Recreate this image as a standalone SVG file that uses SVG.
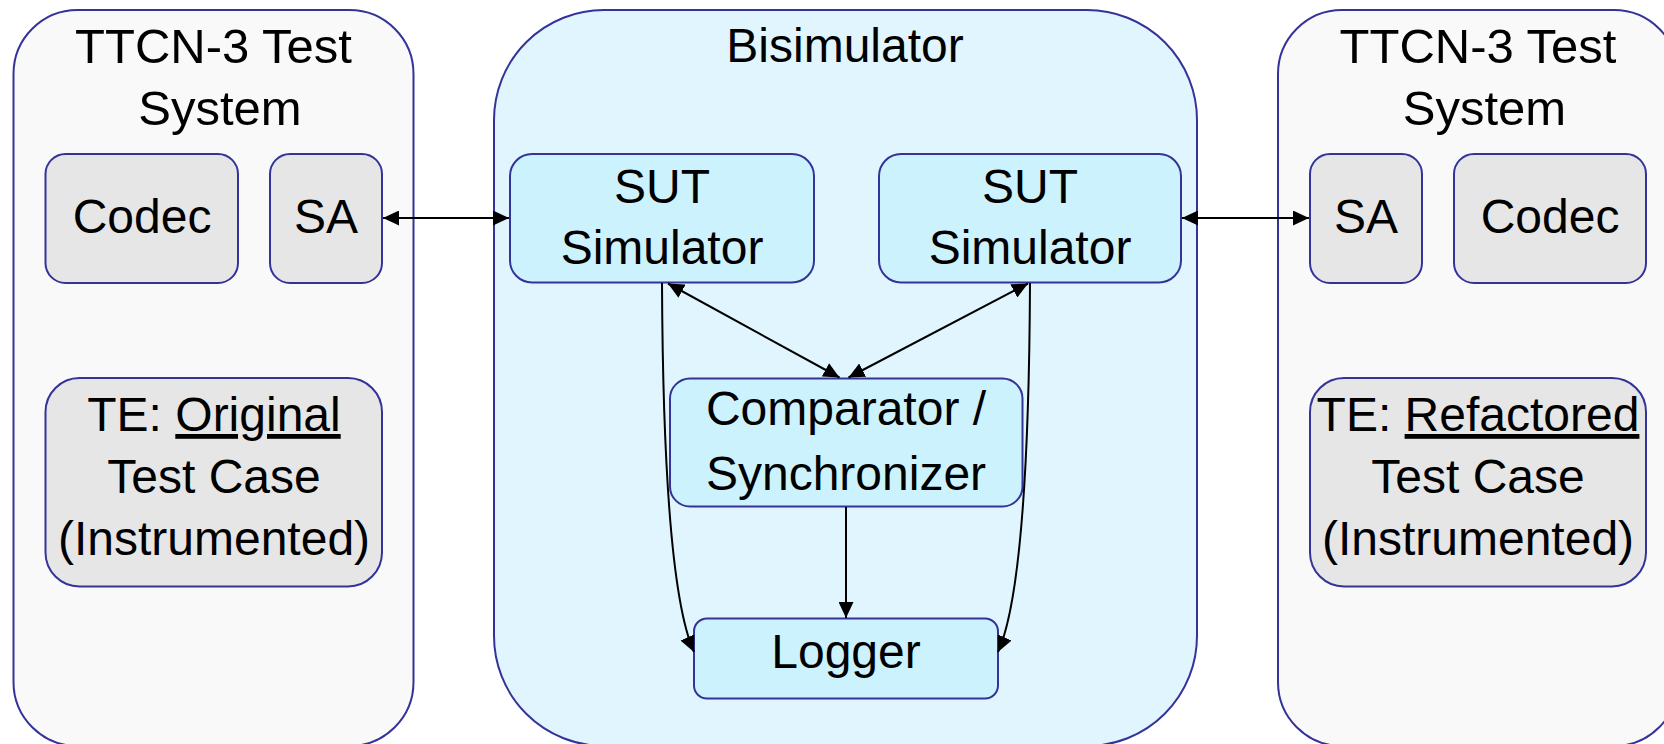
<svg xmlns="http://www.w3.org/2000/svg" width="1664" height="744" viewBox="0 0 1664 744">
<defs>
<style>
.cont{fill:#F9F9F9;stroke:#333399;stroke-width:2}
.bisim{fill:#E0F5FE;stroke:#333399;stroke-width:2}
.gray{fill:#E6E6E6;stroke:#333399;stroke-width:2}
.cyan{fill:#CCF2FE;stroke:#333399;stroke-width:2}
text{font-family:"Liberation Sans",Arial,sans-serif;font-size:48px;fill:#000;text-anchor:middle}
.head{font-size:49px}
.conn{fill:none;stroke:#000;stroke-width:2}
</style>
<marker id="ah" markerUnits="userSpaceOnUse" markerWidth="17" markerHeight="15" refX="16" refY="7.5" orient="auto-start-reverse" viewBox="0 0 17 15">
<path d="M0,0 L16,7.5 L0,15 z" fill="#000"/>
</marker>
</defs>
<rect width="1664" height="744" fill="#FFFFFF"/>

<g id="left-system">
<rect class="cont" x="13.5" y="10" width="400" height="736" rx="64"/>
<text class="head" x="213.5" y="63">TTCN-3 Test</text>
<text class="head" x="220" y="125">System</text>
</g>
<g id="left-codec">
<rect class="gray" x="45.5" y="154" width="192.5" height="129" rx="20"/>
<text x="142" y="233">Codec</text>
</g>
<g id="left-sa">
<rect class="gray" x="270" y="154" width="112" height="129" rx="20"/>
<text x="326" y="233">SA</text>
</g>
<g id="left-te">
<rect class="gray" x="45.5" y="378" width="336.5" height="208.5" rx="34"/>
<text x="214" y="431">TE: <tspan text-decoration="underline">Original</tspan></text>
<text x="214" y="493">Test Case</text>
<text x="214" y="555">(Instrumented)</text>
</g>

<g id="bisimulator">
<rect class="bisim" x="494" y="10" width="703" height="736" rx="110"/>
<text x="845" y="62">Bisimulator</text>
</g>
<g id="sut-left">
<rect class="cyan" x="510" y="154" width="304" height="128.5" rx="22"/>
<text x="662" y="203">SUT</text>
<text x="662" y="264">Simulator</text>
</g>
<g id="sut-right">
<rect class="cyan" x="879" y="154" width="302" height="128.5" rx="22"/>
<text x="1030" y="203">SUT</text>
<text x="1030" y="264">Simulator</text>
</g>
<g id="comparator">
<rect class="cyan" x="670" y="378.5" width="352.5" height="128" rx="20"/>
<text x="846" y="425">Comparator /</text>
<text x="846" y="490">Synchronizer</text>
</g>
<g id="logger">
<rect class="cyan" x="694" y="618.5" width="304" height="80" rx="13"/>
<text x="846" y="668">Logger</text>
</g>

<g id="right-system">
<rect class="cont" x="1278" y="10" width="400" height="736" rx="64"/>
<text class="head" x="1478" y="63">TTCN-3 Test</text>
<text class="head" x="1484.5" y="125">System</text>
</g>
<g id="right-sa">
<rect class="gray" x="1310" y="154" width="112" height="129" rx="20"/>
<text x="1366" y="233">SA</text>
</g>
<g id="right-codec">
<rect class="gray" x="1454" y="154" width="192" height="129" rx="20"/>
<text x="1550" y="233">Codec</text>
</g>
<g id="right-te">
<rect class="gray" x="1310" y="378" width="336" height="208.5" rx="34"/>
<text x="1478" y="431">TE: <tspan text-decoration="underline">Refactored</tspan></text>
<text x="1478" y="493">Test Case</text>
<text x="1478" y="555">(Instrumented)</text>
</g>

<g id="connectors">
<line class="conn" x1="383" y1="218" x2="509" y2="218" marker-start="url(#ah)" marker-end="url(#ah)"/>
<line class="conn" x1="1182" y1="218" x2="1309" y2="218" marker-start="url(#ah)" marker-end="url(#ah)"/>
<line class="conn" x1="668" y1="283.5" x2="839.5" y2="377.5" marker-start="url(#ah)" marker-end="url(#ah)"/>
<line class="conn" x1="1028" y1="283.5" x2="848.5" y2="377.5" marker-start="url(#ah)" marker-end="url(#ah)"/>
<path class="conn" d="M662,283 C663,500 675,610 694,652" marker-end="url(#ah)"/>
<path class="conn" d="M1030,283 C1029,500 1017,610 998,652" marker-end="url(#ah)"/>
<line class="conn" x1="846" y1="507" x2="846" y2="618" marker-end="url(#ah)"/>
</g>
</svg>
